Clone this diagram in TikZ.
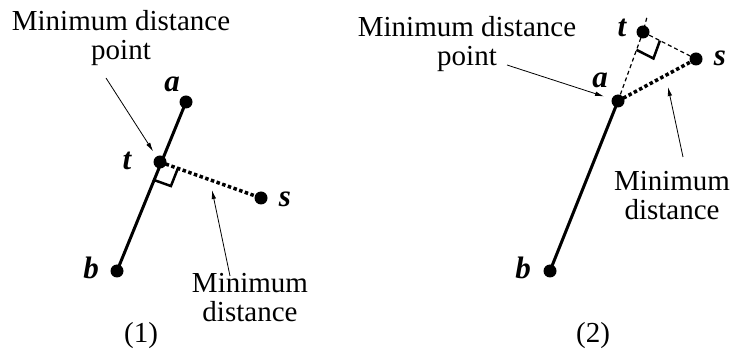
\documentclass[tikz,border=0pt]{standalone}
\usepackage{fontspec}
\setmainfont{Liberation Serif}
\usetikzlibrary{arrows.meta,calc}

\begin{document}
\begin{tikzpicture}[x=1pt,y=-1pt,
    pt/.style={circle,fill=black,inner sep=0pt,minimum size=13pt},
    lbl/.style={font=\fontsize{31}{31}\selectfont\bfseries\itshape,inner sep=0pt},
    txt/.style={font=\fontsize{29}{29.5}\selectfont,align=center,inner sep=0pt},
    seg/.style={line width=3pt},
    mindist/.style={line width=3.5pt,dash pattern=on 3.5pt off 2.5pt},
    aux/.style={line width=1.2pt,dash pattern=on 4pt off 3pt},
    rightang/.style={line width=2.5pt},
    pointer/.style={line width=0.8pt,-{Latex[length=9pt,width=4.5pt]}}]

    \useasboundingbox (0,0) rectangle (736,352);

    % Panel (1): foot of the perpendicular lies on the segment
    \node[pt] (a1) at (186,102) {};
    \node[pt] (t1) at (160,162) {};
    \node[pt] (b1) at (117,271) {};
    \node[pt] (s1) at (261,198) {};

    \node[lbl] (a1lab) at (172,84) {a};
    \node[lbl] (t1lab) at (127,161) {t};
    \node[lbl] (b1lab) at (91,268) {b};
    \node[lbl] (s1lab) at (285,199) {s};

    \draw[seg] (a1.center) -- (b1.center);
    \draw[mindist] (t1.center) -- (s1.center);

    % right angle mark
    \coordinate (r1b) at ($(t1)!19pt!(b1)$);
    \coordinate (r1s) at ($(t1)!19pt!(s1)$);
    \draw[rightang] (r1b) -- ($(r1b)+(r1s)-(t1)$) -- (r1s);

    % labels with pointers (base = last line)
    \node[txt,anchor=base] (q1) at (121,60) {Minimum distance\\point};
    \coordinate (q1tail) at (106,78);
    \draw[pointer,shorten >=6pt] (q1tail) -- (t1);

    \node[txt,anchor=base] (d1) at (250,322) {Minimum\\distance};
    \coordinate (d1tail) at (230,276);
    \coordinate (d1tip) at (212,190);
    \draw[pointer] (d1tail) -- (d1tip);

    \node[txt,anchor=base] (cap1) at (141,343) {(1)};

    % Panel (2): foot of the perpendicular lies beyond a
    \node[pt] (a2) at (618,101) {};
    \node[pt] (t2) at (643,32) {};
    \node[pt] (b2) at (550,271) {};
    \node[pt] (s2) at (696,59) {};
    \coordinate (e2) at (647,17);

    \node[lbl] (a2lab) at (600,80) {a};
    \node[lbl] (t2lab) at (622,28) {t};
    \node[lbl] (b2lab) at (523,268) {b};
    \node[lbl] (s2lab) at (720,58) {s};

    \draw[seg] (a2.center) -- (b2.center);
    \draw[aux] (a2.center) -- (t2.center) -- (e2);
    \draw[aux] (t2.center) -- (s2.center);
    \draw[mindist] (a2.center) -- (s2.center);

    % right angle mark
    \coordinate (r2a) at ($(t2)!19pt!(a2)$);
    \coordinate (r2s) at ($(t2)!19pt!(s2)$);
    \draw[rightang] (r2a) -- ($(r2a)+(r2s)-(t2)$) -- (r2s);

    % labels with pointers
    \node[txt,anchor=base] (q2) at (467,66) {Minimum distance\\point};
    \coordinate (q2tail) at (507,65);
    \draw[pointer,shorten >=8pt] (q2tail) -- (a2);

    \node[txt,anchor=base] (d2) at (672,220) {Minimum\\distance};
    \coordinate (d2tail) at (683,157);
    \coordinate (d2tip) at (668,87);
    \draw[pointer] (d2tail) -- (d2tip);

    \node[txt,anchor=base] (cap2) at (593,343) {(2)};
\end{tikzpicture}
\end{document}
